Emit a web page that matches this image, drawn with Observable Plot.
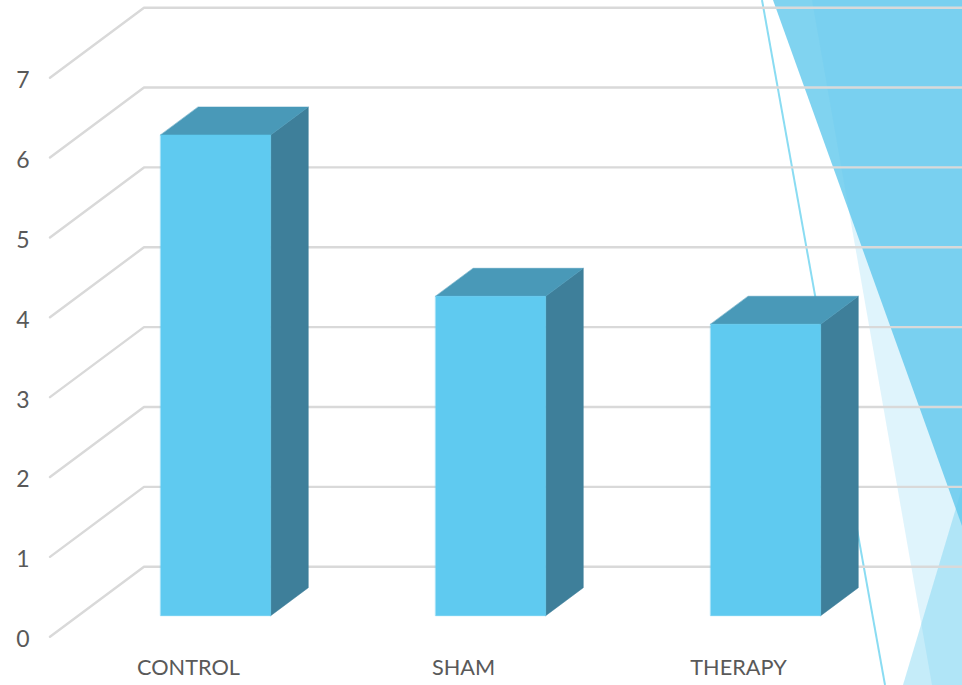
<!DOCTYPE html>
<html>
<head>
<meta charset="utf-8">
<script src="https://cdn.jsdelivr.net/npm/d3@7"></script>
<script src="https://cdn.jsdelivr.net/npm/@observablehq/plot@0.6"></script>
<style>
  html, body { margin: 0; padding: 0; background: #fff; overflow: hidden; }
  #stage { position: relative; width: 962px; height: 685px; overflow: hidden; }
  #facets { position: absolute; left: 0; top: 0; }
  #chart { position: absolute; left: 0; top: 0; }
</style>
</head>
<body>
<div id="stage">
  <!-- Slide theme facets sitting behind the chart -->
  <svg id="facets" width="962" height="685" viewBox="0 0 962 685">
    <polygon points="773,0 962,0 962,526" fill="#5cc6ec" fill-opacity="0.78"/>
    <polygon points="812,0 962,0 962,685 932,685" fill="#5fc9ef" fill-opacity="0.2"/>
    <polygon points="962,488 962,685 903,685" fill="#5fc9ef" fill-opacity="0.36"/>
    <line x1="762" y1="0" x2="885" y2="685" stroke="#8adcf2" stroke-width="2"/>
  </svg>
  <div id="chart"></div>
</div>
<script>
const categories = ["CONTROL", "SHAM", "THERAPY"];
const scores = [6.02, 4.0, 3.65];
const yTicks = [0, 1, 2, 3, 4, 5, 6, 7];

// Oblique 3D projection: moving from the front plane (depth 0) to the back
// wall (depth 1) shifts a point right and up, expressed in scale units.
const depthX = 94 / 275;
const depthY = 70 / 79.86;
const project = (x, v, d) => ({x: x + d * depthX, v: v + d * depthY});

// Bars occupy the middle of each category slot, both across and in depth.
const barStart = 0.3, barEnd = 0.7, depthStart = 0.3, depthEnd = 0.7;

const gridLines = yTicks.flatMap((t) => [
  {t, ...project(0, t, 0)},
  {t, ...project(0, t, 1)},
  {t, ...project(categories.length, t, 1)}
]);

const faces = categories.flatMap((name, i) => {
  const l = i + barStart, r = i + barEnd, v = scores[i];
  return [
    {key: name + "-side", color: "#3e7f9a", pts: [project(r, 0, depthStart), project(r, 0, depthEnd), project(r, v, depthEnd), project(r, v, depthStart)]},
    {key: name + "-top", color: "#4999b8", pts: [project(l, v, depthStart), project(r, v, depthStart), project(r, v, depthEnd), project(l, v, depthEnd)]},
    {key: name + "-front", color: "#5fcaf0", pts: [project(l, 0, depthStart), project(r, 0, depthStart), project(r, v, depthStart), project(l, v, depthStart)]}
  ];
}).flatMap((f) => f.pts.map((p) => ({...p, key: f.key, color: f.color})));

const labelFont = "Lato, sans-serif";

const chart = Plot.plot({
  width: 962,
  height: 685,
  margin: 0,
  style: {background: "transparent"},
  x: {type: "linear", domain: [0, 3], range: [49.5, 874.5], axis: null},
  y: {type: "linear", domain: [0, 7], range: [636.2, 77.2], axis: null},
  marks: [
    Plot.line(gridLines, {x: "x", y: "v", z: "t", stroke: "#d9d9d9", strokeWidth: 2.4}),
    Plot.line(faces, {
      x: "x", y: "v", z: "key",
      fill: (d) => d.color, stroke: (d) => d.color, strokeWidth: 0.5,
      curve: "linear-closed"
    }),
    Plot.text(yTicks, {
      x: () => 0, y: (d) => d, text: (d) => String(d),
      dx: -27, dy: 3, fontSize: 23, fontFamily: labelFont, fill: "#595959"
    }),
    Plot.text(categories, {
      x: (d, i) => i + 0.5, y: () => 0, text: (d) => d,
      dx: 1, dy: 31, fontSize: 21.7, fontFamily: labelFont, fill: "#595959"
    })
  ]
});
document.getElementById("chart").appendChild(chart);
</script>
</body>
</html>
